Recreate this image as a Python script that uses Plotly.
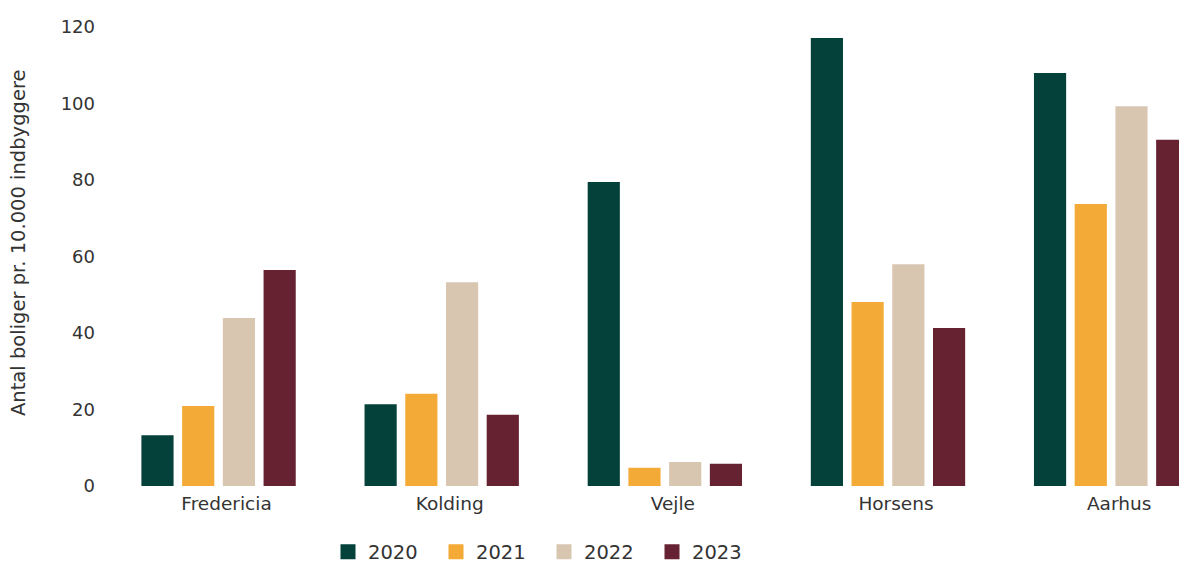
import plotly.graph_objects as go

categories = ["Fredericia", "Kolding", "Vejle", "Horsens", "Aarhus"]
years = ["2020", "2021", "2022", "2023"]
values_2020 = [13.3, 21.4, 79.5, 117.1, 108.0]
values_2021 = [20.9, 24.1, 4.8, 48.1, 73.7]
values_2022 = [43.9, 53.3, 6.3, 58.0, 99.3]
values_2023 = [56.5, 18.6, 5.8, 41.3, 90.5]
colors = ["#03413A", "#F4AA36", "#D9C6B0", "#662231"]
y_ticks = [0, 20, 40, 60, 80, 100, 120]
y_title = "Antal boliger pr. 10.000 indbyggere"

series = [values_2020, values_2021, values_2022, values_2023]

fig = go.Figure()
for name, vals, col in zip(years, series, colors):
    fig.add_trace(go.Bar(
        x=categories, y=vals, name=name, legendgroup=name, showlegend=False,
        marker=dict(color=col, line=dict(width=0)),
    ))
# legend entries with larger square swatches
for name, col in zip(years, colors):
    fig.add_trace(go.Scatter(
        x=[None], y=[None], mode="markers", name=name, legendgroup=name,
        marker=dict(symbol="square", size=15, color=col, line=dict(width=0)),
        hoverinfo="skip",
    ))

font_family = "DejaVu Sans, sans-serif"
txt = "#333333"
W, H = 1179, 555
ML, MT, MB = 99, 19, 77
plot_w = W - ML
plot_h = H - MT - MB
fig.update_layout(
    width=W, height=H,
    barmode="group", bargap=0.27, bargroupgap=0.21,
    plot_bgcolor="white", paper_bgcolor="white",
    margin=dict(l=ML, r=0, t=MT, b=MB),
    font=dict(family=font_family, color=txt, size=16),
    showlegend=True,
    legend=dict(
        orientation="h", xref="container", x=320 / W, xanchor="left",
        yref="container", y=1 - 544 / H, yanchor="middle",
        font=dict(size=19.5, color=txt),
        entrywidth=63, entrywidthmode="pixels", itemsizing="trace",
        itemwidth=30, tracegroupgap=0,
    ),
    xaxis=dict(
        type="category", categoryorder="array", categoryarray=categories,
        range=[-0.5, 4.34], showgrid=False, showline=False, zeroline=False,
        ticks="", tickfont=dict(size=18.5, color=txt), fixedrange=True,
        ticklabelshift=8, ticklabelstandoff=4,
    ),
    yaxis=dict(
        range=[0, 120], tickvals=y_ticks, showgrid=False, showline=False,
        zeroline=False, ticks="", ticklabelstandoff=11,
        tickfont=dict(size=18, color=txt),
    ),
)
fig.add_annotation(
    text=y_title, textangle=-90, showarrow=False,
    xref="paper", yref="paper",
    x=(10 - ML) / plot_w, y=(MT + plot_h - 235) / plot_h,
    xanchor="center", yanchor="middle",
    font=dict(size=19.5, color=txt),
)

fig.write_html("out.html")
